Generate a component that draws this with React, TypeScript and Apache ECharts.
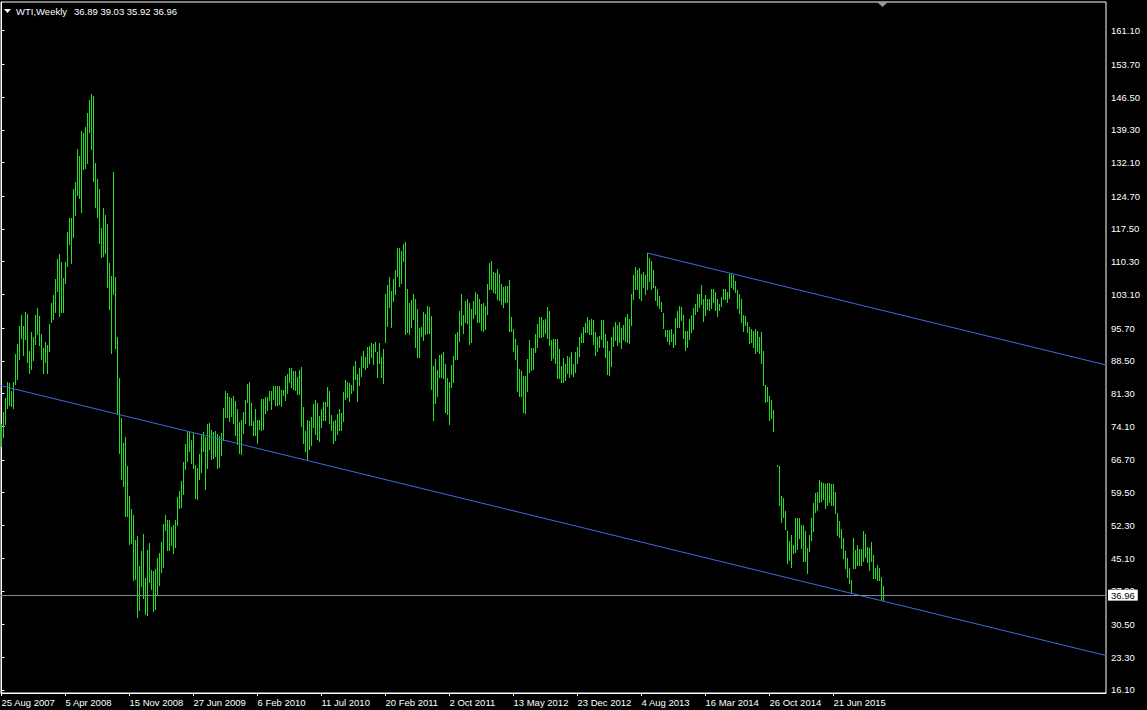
import React, { useEffect, useRef } from "react";
import * as echarts from "echarts";

// Weekly WTI bars [high, low], grouped by the 32-bar blocks between date labels
const fromAug2007: number[][] = [
  [74.5, 69.8], [77.3, 71.8], [80.3, 74.6], [83.9, 78.1], [83.6, 78.8], [81.9, 78.6], [83.9, 78.1], [90.0, 83.3],
  [92.2, 84.4], [96.2, 88.8], [98.6, 93.6], [96.2, 89.8], [99.3, 93.4], [98.9, 88.3], [90.7, 85.8], [94.9, 86.8],
  [93.8, 88.6], [98.6, 92.2], [100.1, 94.4], [98.4, 92.0], [94.4, 89.0], [91.3, 85.9], [92.6, 88.3], [92.0, 85.9],
  [96.6, 90.7], [101.2, 97.0], [103.0, 97.6], [106.5, 99.3], [110.9, 103.9], [111.9, 98.4], [110.3, 99.2], [106.7, 99.3],
];
const fromApr2008: number[][] = [
  [110.2, 105.7], [116.8, 109.4], [119.9, 114.1], [119.9, 110.1], [126.3, 115.8], [127.8, 120.6], [135.1, 125.0], [133.5, 124.2],
  [139.0, 121.3], [138.5, 130.6], [139.9, 131.0], [143.1, 131.9], [145.9, 138.9], [147.1, 135.0], [146.7, 128.1], [132.1, 122.4],
  [128.5, 120.2], [126.3, 114.5], [117.6, 111.3], [122.0, 111.5], [120.5, 112.1], [118.6, 104.8], [109.9, 99.8], [107.2, 90.3],
  [130.0, 103.1], [106.9, 91.3], [93.8, 76.7], [84.8, 68.3], [75.9, 62.4], [70.5, 61.0], [71.8, 54.4], [65.4, 54.4],
];
const fromNov2008: number[][] = [
  [58.8, 48.1], [55.9, 48.4], [54.5, 40.2], [49.1, 40.5], [50.0, 32.1], [43.4, 33.6], [46.7, 39.0], [50.4, 36.3],
  [40.8, 32.8], [46.9, 32.5], [48.4, 39.9], [42.5, 38.3], [42.3, 33.4], [42.7, 33.9], [45.1, 37.3], [46.3, 39.1],
  [48.7, 42.1], [52.6, 43.2], [54.6, 51.3], [53.5, 46.9], [53.5, 46.9], [52.0, 47.9], [52.3, 46.3], [53.5, 47.6],
  [58.6, 52.3], [59.9, 56.2], [62.1, 56.4], [66.3, 59.3], [70.2, 64.6], [72.9, 66.5], [72.8, 68.7], [71.1, 66.1],
];
const fromJun2009: number[][] = [
  [72.6, 65.0], [65.6, 58.4], [65.0, 58.0], [68.0, 62.5], [72.2, 64.1], [72.9, 68.7], [71.8, 60.4], [74.6, 65.0],
  [74.8, 69.0], [73.3, 66.8], [72.9, 67.2], [73.1, 67.6], [72.3, 64.9], [72.0, 65.1], [72.6, 67.7], [78.1, 71.1],
  [81.9, 76.2], [81.4, 76.1], [80.5, 75.3], [80.3, 76.4], [80.8, 74.9], [79.7, 72.1], [77.8, 70.2], [75.1, 68.2],
  [75.5, 68.0], [77.3, 72.6], [79.9, 74.8], [83.4, 79.5], [83.8, 74.3], [79.2, 74.3], [75.3, 72.2], [77.9, 72.2],
];
const fromFeb2010: number[][] = [
  [75.5, 70.5], [75.5, 73.4], [80.1, 73.3], [80.1, 73.4], [80.6, 77.0], [80.6, 77.7], [81.9, 79.9], [81.9, 77.8],
  [83.0, 80.0], [83.0, 78.8], [83.0, 78.8], [83.0, 79.0], [82.1, 78.6], [82.1, 80.9], [85.2, 79.9], [85.6, 81.5],
  [86.9, 83.9], [86.9, 82.8], [86.2, 82.2], [86.2, 82.1], [85.0, 81.2], [86.5, 81.2], [87.1, 74.2], [78.3, 70.5],
  [73.0, 68.6], [75.5, 67.0], [75.3, 69.2], [76.1, 69.9], [79.0, 74.0], [79.9, 72.4], [79.3, 71.4], [76.4, 70.9],
];
const fromJul2010: number[][] = [
  [77.8, 74.0], [79.4, 75.5], [79.4, 75.5], [82.7, 78.6], [81.8, 74.8], [76.5, 73.2], [75.3, 70.5], [75.5, 71.1],
  [76.8, 72.3], [77.8, 73.3], [77.1, 73.3], [81.6, 75.3], [84.3, 80.0], [83.9, 80.5], [83.7, 79.6], [83.2, 81.4],
  [87.4, 82.1], [88.5, 84.4], [85.6, 79.7], [86.9, 83.2], [89.6, 85.2], [90.7, 87.1], [89.4, 86.6], [91.6, 87.2],
  [91.8, 88.1], [92.4, 89.4], [92.2, 87.8], [92.7, 90.7], [90.4, 84.9], [92.5, 88.1], [89.4, 84.9], [91.0, 83.7],
];
const fromFeb2011: number[][] = [
  [103.3, 92.7], [105.2, 96.2], [107.0, 100.4], [103.9, 96.0], [106.4, 101.7], [108.5, 103.3], [113.2, 107.2], [113.2, 105.0],
  [112.6, 105.7], [114.2, 110.5], [114.6, 94.4], [104.4, 94.9], [101.3, 94.5], [101.9, 96.0], [103.2, 97.6], [102.2, 91.6],
  [99.8, 89.4], [95.7, 89.4], [95.9, 94.0], [99.3, 93.1], [98.9, 94.5], [100.6, 94.7], [100.3, 94.7], [98.4, 82.3],
  [87.4, 75.4], [88.8, 79.2], [86.5, 80.8], [89.8, 84.9], [90.0, 85.0], [90.4, 84.7], [87.8, 77.3], [84.7, 76.8],
];
const fromOct2011: number[][] = [
  [83.9, 74.6], [87.6, 82.8], [89.6, 83.9], [94.4, 89.0], [94.8, 88.9], [99.5, 92.9], [103.1, 96.4], [98.6, 94.6],
  [101.7, 97.0], [102.2, 96.8], [101.2, 92.3], [100.0, 92.7], [101.7, 98.0], [103.7, 98.7], [103.3, 97.1], [102.1, 97.0],
  [101.1, 95.3], [101.2, 95.1], [100.6, 95.6], [105.4, 98.9], [109.9, 104.4], [110.5, 104.3], [108.0, 103.7], [107.7, 103.4],
  [108.7, 102.2], [107.6, 101.9], [105.3, 100.9], [104.7, 100.3], [105.0, 101.5], [105.0, 101.5], [106.3, 95.1], [98.1, 95.1],
];
const fromMay2012: number[][] = [
  [95.6, 90.7], [93.3, 88.9], [92.0, 81.9], [86.8, 80.8], [86.3, 80.8], [85.2, 77.3], [85.2, 77.1], [88.9, 81.9],
  [93.1, 86.1], [91.4, 86.5], [91.4, 86.7], [94.5, 90.5], [96.5, 91.6], [98.1, 93.8], [98.2, 93.8], [97.5, 94.0],
  [97.7, 94.6], [100.4, 93.6], [99.5, 92.0], [93.1, 88.7], [93.4, 89.2], [93.3, 88.0], [93.3, 84.8], [91.1, 84.8],
  [87.4, 83.8], [89.2, 83.8], [87.7, 84.3], [89.6, 85.8], [89.3, 85.0], [90.4, 85.5], [87.7, 85.2], [90.5, 86.1],
];
const fromDec2012: number[][] = [
  [91.6, 88.0], [93.8, 89.6], [94.7, 92.6], [96.0, 92.7], [96.9, 94.8], [98.1, 94.8], [97.5, 94.5], [97.8, 94.5],
  [97.5, 92.1], [94.8, 89.8], [93.8, 90.7], [94.0, 91.6], [97.5, 93.4], [97.5, 91.6], [94.5, 89.4], [92.9, 85.5],
  [90.7, 85.4], [93.7, 87.4], [96.0, 91.8], [97.0, 93.1], [96.4, 92.0], [97.0, 92.7], [95.8, 91.4], [96.4, 93.4],
  [98.2, 92.9], [98.7, 92.7], [97.7, 92.4], [103.3, 96.4], [107.4, 102.1], [109.1, 104.4], [108.5, 104.3], [108.8, 102.4],
];
const fromAug2013: number[][] = [
  [107.5, 101.9], [108.0, 104.8], [107.4, 103.1], [112.2, 104.4], [111.0, 106.1], [110.5, 104.3], [108.5, 104.8], [105.0, 101.9],
  [104.3, 100.8], [102.8, 100.2], [101.4, 99.5], [99.0, 95.8], [95.3, 94.0], [95.3, 92.9], [95.3, 92.1], [95.6, 92.9],
  [94.5, 91.6], [98.0, 92.1], [99.5, 96.0], [100.6, 96.0], [100.4, 97.5], [98.6, 93.6], [95.1, 90.9], [95.1, 91.6],
  [97.7, 93.4], [98.6, 94.8], [100.2, 95.6], [101.1, 98.7], [103.1, 99.5], [103.3, 100.4], [105.2, 101.1], [102.2, 97.3],
];
const fromMar2014: number[][] = [
  [103.0, 98.6], [102.2, 99.9], [102.1, 99.7], [104.3, 100.2], [104.4, 101.4], [103.7, 99.7], [102.2, 98.4], [101.1, 99.7],
  [102.6, 100.6], [104.3, 102.1], [104.4, 102.2], [103.7, 101.4], [107.5, 102.4], [107.5, 104.8], [107.4, 104.4], [106.1, 103.6],
  [104.1, 100.2], [103.1, 99.0], [102.1, 97.0], [98.6, 95.1], [98.4, 96.4], [97.0, 94.8], [96.0, 92.4], [95.6, 92.6],
  [95.1, 91.6], [95.6, 90.2], [95.1, 90.7], [93.8, 90.2], [94.8, 88.0], [90.7, 83.2], [83.2, 79.5], [82.8, 79.7],
];
const fromOct2014: (number[] | null)[] = [
  [80.8, 75.5], [79.9, 75.9], [77.7, 73.0], null, [65.6, 65.3], [65.4, 56.8], [58.8, 53.0], [58.3, 54.2],
  [55.5, 51.5], [51.1, 44.0], [48.9, 44.7], [50.2, 43.2], [48.0, 46.2], [53.9, 46.4], [53.9, 47.1], [53.9, 49.5],
  [52.3, 47.4], [52.3, 44.5], [51.1, 44.5], [47.3, 41.8], [50.2, 46.7], [53.9, 49.1], [57.2, 51.1], [59.4, 55.3],
  [59.7, 55.7], [62.3, 57.5], [61.8, 57.7], [61.6, 58.0], [61.3, 56.2], [61.6, 56.7], [61.6, 57.5], [61.3, 56.8],
];
const fromJun2015: number[][] = [
  [61.3, 56.8], [59.6, 55.0], [55.0, 50.2], [53.3, 49.8], [51.5, 47.4], [49.5, 45.2], [46.7, 43.0], [45.2, 41.0],
  [43.0, 39.6], [40.3, 37.4], [49.5, 43.0], [46.9, 43.0], [48.0, 43.7], [47.1, 43.6], [47.1, 43.7], [51.1, 44.5],
  [50.4, 45.4], [47.6, 44.3], [47.3, 42.5], [48.6, 44.5], [45.8, 40.8], [43.0, 40.8], [43.5, 40.3], [43.0, 40.3],
  [41.0, 36.1], [39.03, 35.92],
];

// Last bar O H L C (shown in the header)
const lastOHLC = [36.89, 39.03, 35.92, 36.96];
const bidPrice = 36.96;

// Date labels every 32 bars
const dateLabels = [
  "25 Aug 2007", "5 Apr 2008", "15 Nov 2008", "27 Jun 2009", "6 Feb 2010", "11 Jul 2010", "20 Feb 2011",
  "2 Oct 2011", "13 May 2012", "23 Dec 2012", "4 Aug 2013", "16 Mar 2014", "26 Oct 2014", "21 Jun 2015",
];
const barsPerLabel = 32;

// Price tick labels
const priceTicks = [
  16.1, 23.3, 30.5, 37.9, 45.1, 52.3, 59.5, 66.7, 74.1, 81.3, 88.5, 95.7, 103.1, 110.3, 117.5, 124.7, 132.1, 139.3,
  146.5, 153.7, 161.1,
];

// Trend lines as [barIndex, price] anchor pairs
const lowerTrend = [[-1, 83.1], [553, 23.6]];
const upperTrend = [[323, 112.2], [553, 87.5]];

const BAR_COLOR = "#22e022";
const TREND_COLOR = "#4169E1";
const BID_COLOR = "#778899";
const FONT = '"Liberation Sans", Arial, sans-serif';

export default function App() {
  const ref = useRef<HTMLDivElement>(null);

  useEffect(() => {
    document.body.style.margin = "0";
    document.body.style.background = "#000";
    if (!ref.current) return;
    const chart = echarts.init(ref.current, null, { renderer: "svg" });

    const allBars = [
      ...fromAug2007, ...fromApr2008, ...fromNov2008, ...fromJun2009, ...fromFeb2010, ...fromJul2010,
      ...fromFeb2011, ...fromOct2011, ...fromMay2012, ...fromDec2012, ...fromAug2013, ...fromMar2014,
      ...fromOct2014, ...fromJun2015,
    ] as (number[] | null)[];
    const barData: number[][] = [];
    allBars.forEach((b, i) => {
      if (b) barData.push([i, b[0], b[1]]);
    });
    const labelIdx = dateLabels.map((_, k) => k * barsPerLabel);

    chart.setOption({
      animation: false,
      backgroundColor: "#000",
      grid: {
        left: 1,
        top: 2,
        right: 41,
        bottom: 17,
        show: true,
        borderColor: "#fff",
        borderWidth: 1,
        containLabel: false,
        outerBoundsMode: "none",
      },
      xAxis: {
        type: "value",
        min: -0.25,
        max: 552.25,
        position: "bottom",
        axisLine: { show: true, lineStyle: { color: "#fff", width: 1 } },
        axisTick: { show: true, length: 3, lineStyle: { color: "#fff" }, customValues: labelIdx },
        axisLabel: {
          customValues: labelIdx,
          formatter: (v: number) => dateLabels[Math.round(v / barsPerLabel)] ?? "",
          align: "left",
          color: "#fff",
          fontSize: 9.5,
          fontFamily: FONT,
          margin: 4,
        },
        splitLine: { show: false },
      },
      yAxis: {
        type: "value",
        position: "right",
        min: 15.44,
        max: 167.41,
        axisLine: { show: true, lineStyle: { color: "#fff", width: 1 } },
        axisTick: { show: true, length: 3, lineStyle: { color: "#fff" }, customValues: priceTicks },
        axisLabel: {
          customValues: priceTicks,
          formatter: (v: number) => v.toFixed(2),
          color: "#fff",
          fontSize: 9.5,
          fontFamily: FONT,
          margin: 5,
        },
        splitLine: { show: false },
      },
      series: [
        {
          type: "custom",
          silent: true,
          clip: true,
          encode: { x: 0, y: [1, 2] },
          data: barData,
          renderItem: (_params: any, api: any) => {
            const top = api.coord([api.value(0), api.value(1)]);
            const bot = api.coord([api.value(0), api.value(2)]);
            const x = Math.round(top[0] - 0.5);
            const y1 = Math.round(top[1]);
            const y2 = Math.round(bot[1]);
            return {
              type: "rect",
              shape: { x, y: y1, width: 1, height: Math.max(1, y2 - y1 + 1) },
              style: { fill: BAR_COLOR },
            };
          },
          markLine: {
            silent: true,
            symbol: ["none", "none"],
            lineStyle: { color: BID_COLOR, type: "solid", width: 1 },
            label: {
              show: true,
              position: "end",
              formatter: bidPrice.toFixed(2),
              backgroundColor: "#fff",
              color: "#000",
              fontSize: 9.5,
              fontFamily: FONT,
              padding: [1, 3, 0, 3],
              distance: 2,
            },
            data: [{ yAxis: bidPrice }],
          },
        },
        {
          type: "line",
          silent: true,
          symbol: "none",
          clip: true,
          data: lowerTrend,
          lineStyle: { color: TREND_COLOR, width: 1 },
        },
        {
          type: "line",
          silent: true,
          symbol: "none",
          clip: true,
          data: upperTrend,
          lineStyle: { color: TREND_COLOR, width: 1 },
        },
      ],
      graphic: [
        {
          type: "polygon",
          shape: { points: [[4, 9], [11, 9], [7.5, 13]] },
          style: { fill: "#fff" },
        },
        {
          type: "text",
          x: 16,
          y: 11,
          style: { text: "WTI,Weekly", fill: "#fff", fontSize: 9.5, fontFamily: FONT, verticalAlign: "middle" },
        },
        {
          type: "text",
          x: 74,
          y: 11,
          style: {
            text: lastOHLC.map((v) => v.toFixed(2)).join(" "),
            fill: "#fff",
            fontSize: 9.5,
            fontFamily: FONT,
            verticalAlign: "middle",
          },
        },
        {
          type: "polygon",
          shape: { points: [[877, 2], [888, 2], [882.5, 7]] },
          style: { fill: "#8e99a4" },
        },
      ],
    });

    return () => chart.dispose();
  }, []);

  return <div ref={ref} style={{ width: 1147, height: 710 }} />;
}
